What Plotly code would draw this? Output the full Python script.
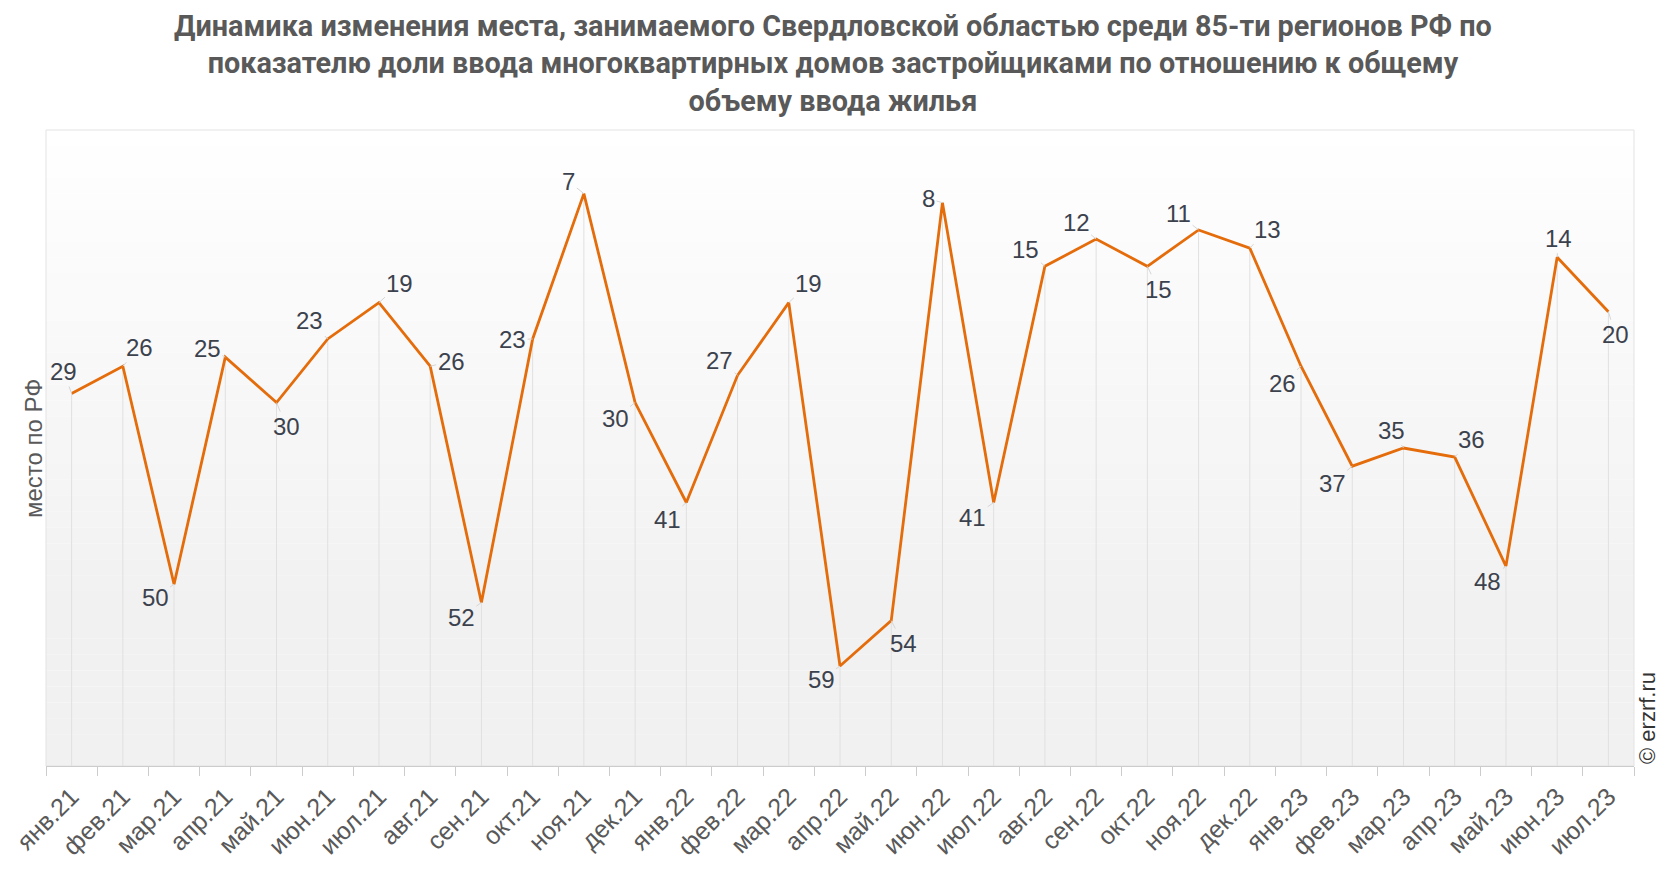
import plotly.graph_objects as go

# Месяцы и место Свердловской области
months = ["янв.21", "фев.21", "мар.21", "апр.21", "май.21", "июн.21", "июл.21", "авг.21",
          "сен.21", "окт.21", "ноя.21", "дек.21", "янв.22", "фев.22", "мар.22", "апр.22",
          "май.22", "июн.22", "июл.22", "авг.22", "сен.22", "окт.22", "ноя.22", "дек.22",
          "янв.23", "фев.23", "мар.23", "апр.23", "май.23", "июн.23", "июл.23"]
rank = [29, 26, 50, 25, 30, 23, 19, 26, 52, 23, 7, 30, 41, 27, 19, 59,
        54, 8, 41, 15, 12, 15, 11, 13, 26, 37, 35, 36, 48, 14, 20]

# смещения подписей (px) относительно точки
label_dx = [-8, 17, -19, -18, 10, -18, 21, 21, -20, -20, -15, -20, -19, -18, 20, -19,
            12, -14, -21, -19, -20, 11, -20, 18, -19, -20, -12, 17, -18, 1, 7]
label_dy = [-22, -19, 13, -9, 24, -18, -19, -5, 15, 1, -12, 16, 17, -15, -19, 13,
            23, -4, 15, -17, -17, 23, -16, -19, 17, 17, -18, -18, 15, -19, 23]

BOTTOM = 70
ARIAL = "Liberation Sans, Arial, sans-serif"

fig = go.Figure()

# фон-градиент
n_bands = 40
for i in range(n_bands):
    t = i / (n_bands - 1)
    c = int(255 - 14 * min(1, t * 1.25))
    fig.add_shape(type="rect", xref="paper", yref="paper",
                  x0=0, x1=1, y0=1 - (i + 1) / n_bands, y1=1 - i / n_bands,
                  fillcolor=f"rgb({c},{c},{c})", line_width=0, layer="below")
fig.add_shape(type="rect", xref="paper", yref="paper", x0=0, x1=1, y0=0, y1=1,
              line=dict(color="#e3e3e3", width=1), layer="below")

# вертикальные линии от точек
drop_x, drop_y = [], []
for m, v in zip(months, rank):
    drop_x += [m, m, None]
    drop_y += [v, BOTTOM, None]
fig.add_trace(go.Scatter(x=drop_x, y=drop_y, mode="lines",
                         line=dict(color="#e0e0e0", width=1),
                         hoverinfo="skip", showlegend=False))

fig.add_trace(go.Scatter(
    x=months, y=rank, mode="lines",
    line=dict(color="#E46C0A", width=2.8),
    name="место по РФ", showlegend=False
))

for m, v, dx, dy in zip(months, rank, label_dx, label_dy):
    fig.add_annotation(x=m, y=v, text=str(v), showarrow=True, arrowhead=0,
                       arrowwidth=1, arrowcolor="#d5d5d5", standoff=0,
                       ax=dx, ay=dy, font=dict(family=ARIAL, size=24, color="#3c424d"))

title = ("Динамика изменения места, занимаемого Свердловской областью среди 85-ти регионов РФ по<br>"
         "показателю доли ввода многоквартирных домов застройщиками по отношению к общему<br>"
         "объему ввода жилья")
fig.add_annotation(text=title, xref="paper", yref="paper", x=0.5, y=1,
                   xshift=-7, yshift=67, xanchor="center", yanchor="middle",
                   showarrow=False,
                   font=dict(family="Roboto", size=28.8, color="#595959", weight="bold"))

fig.add_annotation(text="место по РФ", xref="paper", yref="paper", x=0, y=0.5,
                   xshift=-13, xanchor="center", yanchor="middle", textangle=-90,
                   showarrow=False, font=dict(family=ARIAL, size=24, color="#595959"))

fig.add_annotation(text="© erzrf.ru", xref="paper", yref="paper", x=1.0, y=0,
                   xshift=13, xanchor="center", yanchor="bottom", textangle=-90,
                   showarrow=False, font=dict(family=ARIAL, size=22, color="#333333"))

# страница имеет отступ body 8px, поэтому фигура чуть меньше окна
fig.update_layout(
    width=1650, height=856,
    font=dict(family=ARIAL, color="#595959"),
    paper_bgcolor="white",
    plot_bgcolor="rgba(0,0,0,0)",
    margin=dict(l=38, r=24, t=122, b=98),
)

fig.update_xaxes(type="category", categoryorder="array", categoryarray=months,
                 range=[-0.5, len(months) - 0.5], tickson="boundaries",
                 ticks="outside", ticklen=9, tickcolor="#cccccc",
                 showline=True, linecolor="#cccccc", showgrid=False, automargin=False,
                 tickangle=-45, ticklabelstandoff=5,
                 tickfont=dict(family=ARIAL, size=25, color="#595959"))
fig.update_yaxes(range=[BOTTOM, 0], showticklabels=False, showgrid=False,
                 zeroline=False, showline=False, automargin=False)

fig.write_html("out.html")
